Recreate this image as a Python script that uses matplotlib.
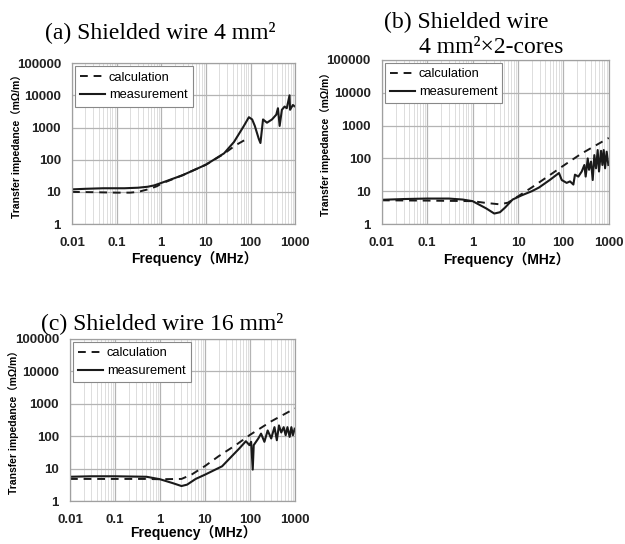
import matplotlib
matplotlib.use("Agg")
import matplotlib.pyplot as plt
from matplotlib.ticker import FixedLocator, LogLocator, NullFormatter

# (a) Shielded wire 4 mm2
calc_a_f = [0.01, 0.03, 0.1, 0.2, 0.3, 0.5, 0.8, 1, 3, 10, 25, 46, 84]
calc_a = [10, 9.8, 9.5, 9.5, 10, 12, 15, 18, 33, 70, 150, 280, 450]
meas_a_f = [0.01, 0.02, 0.05, 0.15, 0.3, 0.5, 0.7, 1, 3, 10, 25.6, 42.6, 71, 92, 109,
            125, 153, 167, 191, 234, 303, 378, 412, 450, 505, 580, 650, 750, 770,
            890, 1000]
meas_a = [12, 12.5, 13, 13, 13.5, 14.5, 16, 19, 33, 70, 158, 355, 1120, 2090, 1780,
          1120, 447, 330, 1780, 1410, 1780, 2510, 3980, 1120, 3550, 4470, 3980, 10000,
          3550, 5000, 4470]

# (b) Shielded wire 4 mm2 x 2-cores
calc_b_f = [0.01, 0.1, 1, 2, 4, 6, 10, 20, 40, 100, 250, 1000]
calc_b = [5.3, 5.2, 5.0, 4.4, 4.0, 4.5, 7, 13, 25, 60, 140, 420]
meas_b_f = [0.01, 0.03, 0.1, 0.3, 0.6, 1, 2, 3, 4, 5.2, 7.6, 12, 20, 29, 50, 80, 92,
            118, 140, 166, 180, 214, 254, 290, 310, 344, 368, 407, 443, 481, 524, 570,
            610, 676, 725, 775, 830, 900, 980]
meas_b = [5.5, 5.8, 6.0, 6.0, 5.6, 5.0, 3.0, 2.1, 2.3, 3.2, 5.6, 7.5, 10, 13, 22, 36, 22,
          18, 20, 16, 32, 28, 40, 63, 28, 100, 45, 80, 22, 126, 50, 180, 40, 170, 63,
          180, 50, 160, 63]

# (c) Shielded wire 16 mm2
calc_c_f = [0.01, 0.1, 0.5, 1, 3, 5, 10, 20, 50, 100, 300, 1000]
calc_c = [4.8, 4.8, 4.8, 4.7, 4.8, 6.5, 12, 24, 55, 110, 290, 720]
meas_c_f = [0.01, 0.03, 0.1, 0.5, 1, 2, 3, 4, 6.2, 10, 24, 58, 81, 97, 106, 115, 121,
            153, 176, 209, 247, 296, 350, 395, 440, 495, 560, 620, 680, 760, 830, 900,
            985]
meas_c = [5.6, 5.8, 5.8, 5.6, 4.7, 3.5, 2.9, 3.2, 4.8, 6.5, 11.8, 42, 70, 53, 67, 9.3,
          53, 85, 120, 67, 150, 85, 190, 75, 215, 130, 190, 107, 190, 95, 190, 107, 170]

x_ticks = [0.01, 0.1, 1, 10, 100, 1000]
x_labels = ["0.01", "0.1", "1", "10", "100", "1000"]
y_ticks = [1, 10, 100, 1000, 10000, 100000]
y_labels = ["1", "10", "100", "1000", "10000", "100000"]

sans = ["Liberation Sans", "Noto Sans CJK JP", "DejaVu Sans"]
serif = ["Liberation Serif", "DejaVu Serif"]

fig = plt.figure(figsize=(6.25, 5.44), dpi=100)


def panel(rect, cf, cv, mf, mv, xlab_y=-0.17):
    ax = fig.add_axes(rect)
    ax.set_xscale("log")
    ax.set_yscale("log")
    ax.set_xlim(0.01, 1000)
    ax.set_ylim(1, 100000)
    ax.xaxis.set_major_locator(FixedLocator(x_ticks))
    ax.xaxis.set_minor_locator(LogLocator(base=10, subs=range(2, 10), numticks=20))
    ax.xaxis.set_minor_formatter(NullFormatter())
    ax.yaxis.set_major_locator(FixedLocator(y_ticks))
    ax.yaxis.set_minor_locator(FixedLocator([]))
    ax.set_xticklabels(x_labels, family=sans, fontsize=9.5, fontweight="bold")
    ax.set_yticklabels(y_labels, family=sans, fontsize=9.5, fontweight="bold")
    ax.tick_params(which="both", length=0, colors="#222222")
    ax.tick_params(axis="x", pad=9)
    ax.tick_params(axis="y", pad=8)
    ax.grid(True, which="major", axis="both", color="#b4b4b4", lw=0.9)
    ax.grid(True, which="minor", axis="x", color="#dddddd", lw=0.7)
    ax.set_axisbelow(True)
    for s in ax.spines.values():
        s.set_color("#a0a0a0")
        s.set_linewidth(0.9)
    ax.plot(cf, cv, color="#1a1a1a", ls=(0, (4, 3)), lw=1.4, label="calculation")
    ax.plot(mf, mv, color="#1a1a1a", lw=1.5, label="measurement")
    ax.set_xlabel("Frequency（MHz）", family=sans, fontsize=10, fontweight="bold")
    ax.xaxis.set_label_coords(0.55, xlab_y)
    ax.set_ylabel("Transfer impedance（mΩ/m）", family=sans, fontsize=7.5,
                  fontweight="bold")
    ax.yaxis.set_label_coords(-0.225, 0.5)
    leg = ax.legend(loc="upper left", prop={"family": sans, "size": 9.3},
                    fancybox=False, framealpha=1, edgecolor="#888888",
                    handlelength=1.9, handletextpad=0.3, borderaxespad=0.25,
                    borderpad=0.4, labelspacing=0.45)
    leg.get_frame().set_linewidth(0.8)
    return ax


panel([0.1152, 0.588, 0.357, 0.296], calc_a_f, calc_a, meas_a_f, meas_a)
panel([0.611, 0.588, 0.363, 0.302], calc_b_f, calc_b, meas_b_f, meas_b)
panel([0.112, 0.079, 0.360, 0.298], calc_c_f, calc_c, meas_c_f, meas_c, xlab_y=-0.15)

fig.text(160 / 625, 1 - 38 / 544, "(a) Shielded wire 4 mm²", family=serif,
         fontsize=17, ha="center", va="baseline")
fig.text(384 / 625, 1 - 28 / 544, "(b) Shielded wire", family=serif,
         fontsize=17, ha="left", va="baseline")
fig.text(419 / 625, 1 - 53 / 544, "4 mm²×2-cores", family=serif,
         fontsize=17, ha="left", va="baseline")
fig.text(162 / 625, 1 - 329 / 544, "(c) Shielded wire 16 mm²", family=serif,
         fontsize=17, ha="center", va="baseline")

fig.savefig("out.png", dpi=100, facecolor="white")
